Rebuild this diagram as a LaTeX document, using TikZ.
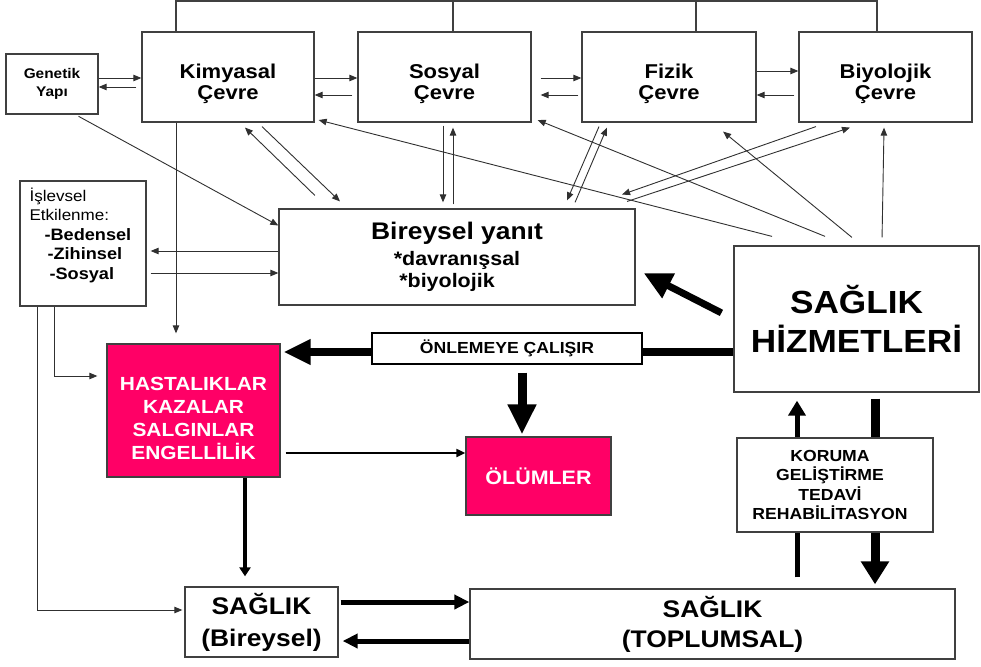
\documentclass[tikz,border=0pt]{standalone}
\usepackage{fontspec}
\setmainfont{Liberation Sans}[FakeStretch=1.1]
\usetikzlibrary{arrows.meta,calc,backgrounds}
\definecolor{frame}{HTML}{404040}
\definecolor{wire}{HTML}{303030}
\definecolor{hot}{HTML}{FF0066}
\newcommand{\fnt}[2]{\fontsize{#1}{#2}\selectfont}
\tikzset{
  box/.style={draw=frame, line width=1.3pt, fill=white, inner sep=0pt, align=center},
  hotbox/.style={box, fill=hot, text=white},
  lbl/.style={inner sep=0pt, align=center},
  ln/.style={draw=wire, line width=0.9pt},
  arr/.style={ln, -{Triangle[length=8pt,width=6.5pt]}},
}
\begin{document}
\begin{tikzpicture}[x=1pt,y=-1pt]
\useasboundingbox (0,0) rectangle (981,666);

% ---------- boxes ----------
\node[box, minimum width=92, minimum height=60, font=\fnt{14}{18}\bfseries] (gen) at (52,84) {Genetik\\Yapı};

\node[box, minimum width=172, minimum height=90] (kim) at (228,77) {};
\node[lbl, font=\fnt{20}{21}\bfseries] (kimL) at ([yshift=-7pt]kim.center) {Kimyasal\\Çevre};
\node[box, minimum width=173, minimum height=90] (sos) at (444.5,77) {};
\node[lbl, font=\fnt{20}{21}\bfseries] (sosL) at ([yshift=-7pt]sos.center) {Sosyal\\Çevre};
\node[box, minimum width=174, minimum height=90] (fiz) at (669,77) {};
\node[lbl, font=\fnt{20}{21}\bfseries] (fizL) at ([yshift=-7pt]fiz.center) {Fizik\\Çevre};
\node[box, minimum width=173, minimum height=90] (biy) at (885.5,77) {};
\node[lbl, font=\fnt{20}{21}\bfseries] (biyL) at ([yshift=-7pt]biy.center) {Biyolojik\\Çevre};

\node[box, minimum width=126, minimum height=125] (isl) at (83,243.5) {};
\node[inner sep=0pt, anchor=north west, align=left, font=\fnt{15.5}{19.5}] (islL)
  at ([xshift=10pt,yshift=-7pt]isl.north west)
  {İşlevsel\\Etkilenme:\\
   \hspace*{15pt}{\fnt{16.5}{19.5}\bfseries -Bedensel}\\
   \hspace*{18pt}{\fnt{16.5}{19.5}\bfseries -Zihinsel}\\
   \hspace*{20pt}{\fnt{16.5}{19.5}\bfseries -Sosyal}};

\node[box, minimum width=356, minimum height=96, font=\fnt{19.5}{22}\bfseries] (bir) at (457,257)
  {{\fnt{24}{26}\bfseries Bireysel yanıt}\\[4pt]*davranışsal\\*biyolojik\hspace*{20pt}};

\node[box, minimum width=245, minimum height=146, font=\fnt{32}{39}\bfseries] (shz) at (856.5,319) {SAĞLIK\\HİZMETLERİ};

\node[box, draw=black, minimum width=270, minimum height=31, font=\fnt{16}{18}\bfseries] (onl) at (507,348.5) {ÖNLEMEYE ÇALIŞIR};

\node[hotbox, minimum width=173, minimum height=133] (has) at (193.5,410.5) {};
\node[lbl, text=white, font=\fnt{19}{23}\bfseries] (hasL) at ([yshift=-8pt]has.center) {HASTALIKLAR\\KAZALAR\\SALGINLAR\\ENGELLİLİK};

\node[hotbox, minimum width=145, minimum height=78, font=\fnt{19.5}{22}\bfseries] (olu) at (538.5,476) {ÖLÜMLER};

\node[box, minimum width=196, minimum height=94] (kor) at (835,485) {};
\node[lbl, font=\fnt{16}{19.5}\bfseries] (korL) at ([xshift=-5pt]kor.center) {KORUMA\\GELİŞTİRME\\TEDAVİ\\REHABİLİTASYON};

\node[box, minimum width=153, minimum height=70, font=\fnt{24}{32}\bfseries] (sb) at (261.5,622) {SAĞLIK\\(Bireysel)};
\node[box, minimum width=485, minimum height=70, font=\fnt{24}{30}\bfseries] (st) at (712.5,624) {SAĞLIK\\(TOPLUMSAL)};

% ---------- bus joining the four environments ----------
\coordinate (busL) at (176,1);
\coordinate (busR) at (877,1);
\draw[draw=frame, line width=1.2pt] (kim.north -| busL) -- (busL) -- (busR) -- (biy.north -| busR);
\draw[draw=frame, line width=1.2pt] (busL -| 453,0) -- (sos.north -| 453,0);
\draw[draw=frame, line width=1.2pt] (busL -| 696,0) -- (fiz.north -| 696,0);
\draw[arr, shorten >=10pt] (kim.south -| busL) -- (has.north -| busL);

% ---------- links between the environments ----------
\draw[arr] (gen.east |- 0,78) -- (kim.west |- 0,78);
\draw[arr, shorten <=5pt] (kim.west |- 0,87) -- (gen.east |- 0,87);
\draw[arr] (kim.east |- 0,78) -- (sos.west |- 0,78);
\draw[arr, shorten <=5pt] (sos.west |- 0,95) -- (kim.east |- 0,95);
\draw[arr, shorten <=9pt] (sos.east |- 0,78) -- (fiz.west |- 0,78);
\draw[arr, shorten <=3pt, shorten >=9pt] (fiz.west |- 0,95) -- (sos.east |- 0,95);
\draw[arr] (fiz.east |- 0,71) -- (biy.west |- 0,71);
\draw[arr, shorten <=4pt] (biy.west |- 0,95) -- (fiz.east |- 0,95);

% ---------- links to the individual response ----------
\draw[arr, shorten <=3.4pt] (gen.south -| 75.5,0) -- (bir.west |- 0,225.5);
\draw[arr, shorten >=4pt] (bir.west |- 0,251) -- (isl.east |- 0,251);
\draw[arr, shorten <=4pt] (isl.east |- 0,273) -- (bir.west |- 0,273);
\draw[arr, shorten >=9pt] (isl.south -| 54,0) |- (has.west |- 0,376);
\draw[arr, shorten >=2pt] (isl.south -| 37,0) |- (sb.west |- 0,610);

\draw[arr, shorten <=18.5pt, shorten >=7pt] (bir.north -| 328.2,0) -- (kim.south -| 239.9,0);
\draw[arr, shorten <=5.7pt, shorten >=10pt] (kim.south -| 257.9,0) -- (bir.north -| 347.2,0);
\draw[arr, shorten <=3pt, shorten >=6pt] (sos.south -| 443,0) -- (bir.north -| 443,0);
\draw[arr, shorten <=4pt, shorten >=5pt] (bir.north -| 453,0) -- (sos.south -| 453,0);
\draw[arr, shorten <=4.3pt, shorten >=8.7pt] (fiz.south -| 600.7,0) -- (bir.north -| 563.6,0);
\draw[arr, shorten <=6.5pt, shorten >=5.4pt] (bir.north -| 572.5,0) -- (fiz.south -| 609.1,0);
\draw[arr, shorten <=11.9pt, shorten >=41.8pt] (biy.south -| 827.2,0) -- (bir.north -| 582.6,0);
\draw[arr, shorten <=22pt, shorten >=15.7pt] (bir.north -| 606.2,0) -- (biy.south -| 864.9,0);

% ---------- health services towards the environments ----------
\draw[arr, shorten <=36pt, shorten >=4.1pt] (shz.north -| 806.9,0) -- (kim.east |- 0,119);
\draw[arr, shorten <=23.9pt, shorten >=6.5pt] (shz.north -| 847.2,0) -- (sos.east |- 0,117.6);
\draw[arr, shorten <=12.5pt, shorten >=14.1pt] (shz.north -| 861.6,0) -- (fiz.south -| 712.2,0);
\draw[arr, shorten <=8pt, shorten >=5pt] (shz.north -| 881.9,0) -- (biy.south -| 884.1,0);

% ---------- heavy arrows ----------
\draw[line width=7pt, -{Triangle[length=28pt,width=26pt]}, shorten <=13.4pt, shorten >=9pt]
  (shz.west |- 0,319) -- (bir.east |- 0,269);
\draw[line width=8pt] (shz.west |- 0,352) -- (onl.east |- 0,352);
\draw[line width=8pt, -{Triangle[length=27pt,width=24pt]}, shorten >=3pt] (onl.west |- 0,352) -- (has.east |- 0,352);
\draw[line width=9pt, -{Triangle[length=30pt,width=27pt]}, shorten <=8pt, shorten >=2pt] (onl.south -| 522,0) -- (olu.north -| 522,0);
\draw[line width=2pt, -{Triangle[length=9pt,width=8pt]}, shorten <=5pt] (has.east |- 0,453) -- (olu.west |- 0,453);
\draw[line width=3.5pt, -{Triangle[length=9pt,width=11pt]}, shorten >=10pt] (has.south -| 245,0) -- (sb.north -| 245,0);
\draw[line width=5pt, -{Triangle[length=15pt,width=14pt]}, shorten <=2pt] (sb.east |- 0,602) -- (st.west |- 0,602);
\draw[line width=5pt, -{Triangle[length=15pt,width=14pt]}, shorten >=4pt] (st.west |- 0,641) -- (sb.east |- 0,641);

\begin{pgfonlayer}{background}
\draw[line width=5pt, -{Triangle[length=15pt,width=17pt]}, shorten <=11pt, shorten >=8pt] (st.north -| 797,0) -- (shz.south -| 797,0);
\draw[line width=9pt, -{Triangle[length=23pt,width=27pt]}, shorten <=6pt, shorten >=4pt] (shz.south -| 875,0) -- (st.north -| 875,0);
\end{pgfonlayer}
\end{tikzpicture}
\end{document}
